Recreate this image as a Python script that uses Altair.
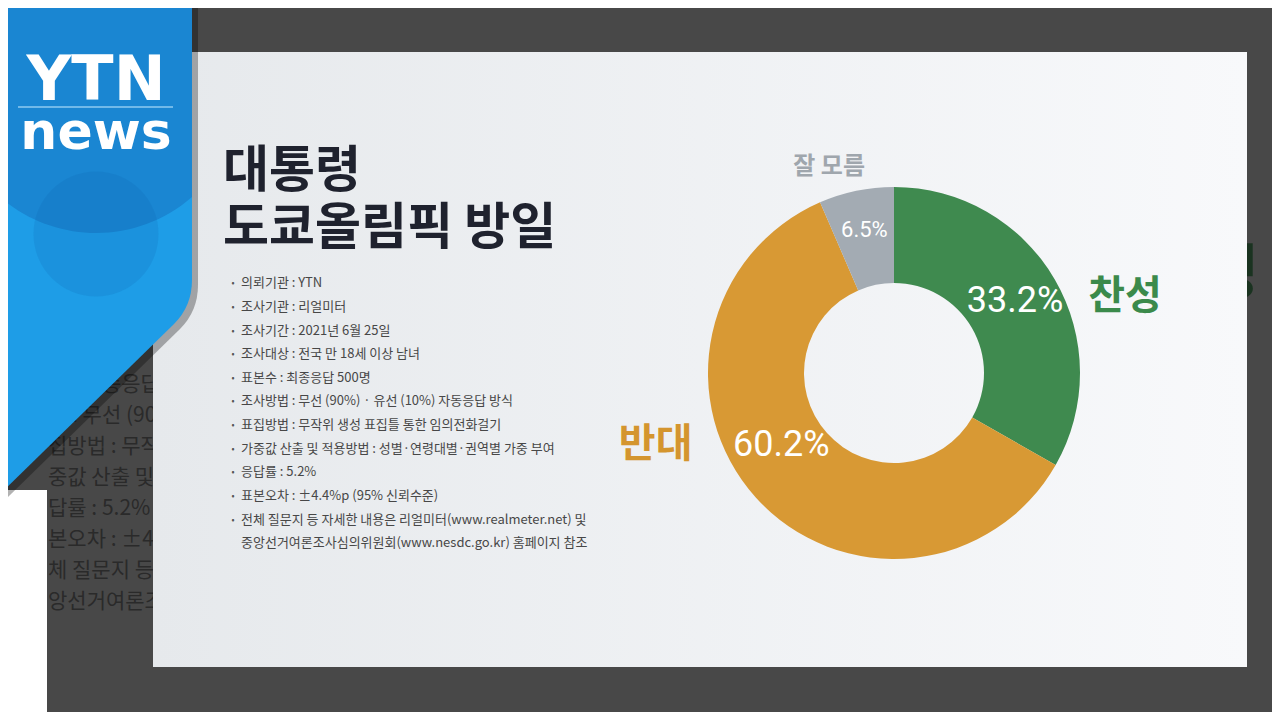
import math
import altair as alt
import pandas as pd

# ---------------- data ----------------
categories = ["찬성", "반대", "잘 모름"]
values = [33.2, 60.2, 6.5]
slice_colors = ["#3f8a4f", "#d89934", "#a3abb3"]
label_colors = ["#3b8a4b", "#d4952e", "#9fa6ad"]

title_lines = ["대통령", "도쿄올림픽 방일"]

info_lines = [
    "의뢰기관 : YTN",
    "조사기관 : 리얼미터",
    "조사기간 : 2021년 6월 25일",
    "조사대상 : 전국 만 18세 이상 남녀",
    "표본수 : 최종응답 500명",
    "조사방법 : 무선 (90%) · 유선 (10%) 자동응답 방식",
    "표집방법 : 무작위 생성 표집틀 통한 임의전화걸기",
    "가중값 산출 및 적용방법 : 성별·연령대별·권역별 가중 부여",
    "응답률 : 5.2%",
    "표본오차 : ±4.4%p (95% 신뢰수준)",
    "전체 질문지 등 자세한 내용은 리얼미터(www.realmeter.net) 및",
    "중앙선거여론조사심의위원회(www.nesdc.go.kr) 홈페이지 참조",
]
info_bullet = [1, 1, 1, 1, 1, 1, 1, 1, 1, 1, 1, 0]

behind_lines = [
    "수 : 최종응답 500명",
    "법 : 무선 (90%)",
    "집방법 : 무작위",
    "중값 산출 및 적용",
    "답률 : 5.2%",
    "본오차 : ±4.4%p",
    "체 질문지 등 자세한",
    "앙선거여론조사",
]

# ---------------- layout constants ----------------
W, H = 1264, 704
CX, CY = 886, 365
KR = "Noto Sans CJK KR"
total = sum(values)

one = pd.DataFrame({"k": [0]})

# text of the slide behind (on the dark strip)
behind_df = pd.DataFrame({"t": behind_lines, "i": list(range(len(behind_lines)))})
behind = alt.Chart(behind_df).mark_text(
    align="left", baseline="middle", font=KR, fontSize=21, color="#2a2a2a"
).encode(
    x=alt.value(40),
    y=alt.Y("i:Q", scale=alt.Scale(domain=[0, 7], range=[377, 594]), axis=None),
    text="t:N",
)
behind_right = alt.Chart(one).mark_text(
    text="성", align="right", baseline="middle", font=KR, fontWeight="bold",
    fontSize=60, color="#1a3320"
).encode(x=alt.value(1251), y=alt.value(268))

white_corner = alt.Chart(one).mark_rect(color="#ffffff").encode(
    x=alt.value(0), x2=alt.value(39), y=alt.value(482), y2=alt.value(704)
)

panel = alt.Chart(one).mark_rect(
    fill=alt.Gradient(
        gradient="linear",
        stops=[alt.GradientStop(color="#e6e9ec", offset=0),
               alt.GradientStop(color="#f8f9fb", offset=1)],
        x1=0, x2=1, y1=0, y2=0,
    )
).encode(x=alt.value(145), x2=alt.value(1239), y=alt.value(44), y2=alt.value(659))

# YTN logo
logo_path = "M-8,-8 L184,-8 L184,272 Q184,298 166,316 L-8,486 Z"
top_path = "M-8,-8 L184,-8 L184,189 A146,146 0 0 1 -8,189 Z"

logo_shadow = alt.Chart(one).mark_point(
    shape=logo_path, size=4, filled=True, color="#000000", opacity=0.3, strokeWidth=0
).encode(x=alt.value(6), y=alt.value(5))
logo = alt.Chart(one).mark_point(
    shape=logo_path, size=4, filled=True, color="#1e9de7", opacity=1, strokeWidth=0
).encode(x=alt.value(0), y=alt.value(0))
logo_top = alt.Chart(one).mark_point(
    shape=top_path, size=4, filled=True, color="#1a86d2", opacity=1, strokeWidth=0
).encode(x=alt.value(0), y=alt.value(0))
logo_circle = alt.Chart(one).mark_point(
    shape="circle", size=15625, filled=True, color="#0a5ea6", opacity=0.16, strokeWidth=0
).encode(x=alt.value(88), y=alt.value(226))
ytn_text = alt.Chart(one).mark_text(
    text="YTN", align="center", baseline="alphabetic", font="DejaVu Sans",
    fontWeight="bold", fontSize=62, color="#ffffff"
).encode(x=alt.value(88), y=alt.value(92))
logo_rule = alt.Chart(one).mark_rule(color="#8fcaf0", strokeWidth=1.5).encode(
    x=alt.value(10), x2=alt.value(165), y=alt.value(99)
)
news_text = alt.Chart(one).mark_text(
    text="news", align="center", baseline="alphabetic", font="DejaVu Sans",
    fontWeight="bold", fontSize=52, color="#ffffff"
).encode(x=alt.value(88), y=alt.value(141))

# title (one two-line text)
title = alt.Chart(one).mark_text(
    text=title_lines, lineHeight=57, align="left", baseline="middle", font=KR,
    fontWeight="bold", fontSize=50, color="#1f222e"
).encode(x=alt.value(215), y=alt.value(164))

# survey info
info_df = pd.DataFrame({"t": info_lines, "i": list(range(len(info_lines))), "b": info_bullet})
info_y = alt.Y("i:Q", scale=alt.Scale(domain=[0, 11], range=[275.3, 535.3]), axis=None)
info = alt.Chart(info_df).mark_text(
    align="left", baseline="middle", font=KR, fontSize=13, color="#474747"
).encode(x=alt.value(233), y=info_y, text="t:N")
bullets = alt.Chart(info_df).transform_filter("datum.b == 1").mark_text(
    text="•", align="center", baseline="middle", font=KR, fontSize=9, color="#555555"
).encode(x=alt.value(225), y=info_y)

# donut
pie_df = pd.DataFrame({"category": categories, "value": values, "order": [0, 1, 2]})
theta_scale = alt.Scale(domain=[0, total], range=[0, 2 * math.pi])
arc = alt.Chart(pie_df).mark_arc(innerRadius=90, outerRadius=186).encode(
    theta=alt.Theta("value:Q", stack=True, scale=theta_scale),
    color=alt.Color("category:N", scale=alt.Scale(domain=categories, range=slice_colors), legend=None),
    order=alt.Order("order:Q"),
    x=alt.value(CX), y=alt.value(CY),
)

base = alt.Chart(pie_df).transform_window(
    cum="sum(value)", sort=[alt.SortField("order")], frame=[None, 0]
).transform_calculate(
    mid="datum.cum - datum.value / 2",
    label="format(datum.value, '.1f') + '%'",
)

inner_style = {  # radius, dx, dy, fontSize
    "찬성": (140, 0, -2, 36),
    "반대": (138, -10, -20, 36),
    "잘 모름": (146, 0, 0, 22),
}
outer_style = {  # radius, dx, dy, fontSize
    "찬성": (243, 21, 46, 40),
    "반대": (249, -53, -94, 40),
    "잘 모름": (216, -21, 6, 24),
}

label_layers = []
for cat, lc in zip(categories, label_colors):
    r, dx, dy, fs = inner_style[cat]
    label_layers.append(
        base.transform_filter(alt.datum.category == cat).mark_text(
            radius=r, dx=dx, dy=dy, align="center", baseline="middle",
            font="Roboto", fontSize=fs, color="#ffffff"
        ).encode(
            theta=alt.Theta("mid:Q", scale=theta_scale),
            text="label:N", x=alt.value(CX), y=alt.value(CY),
        )
    )
    r, dx, dy, fs = outer_style[cat]
    label_layers.append(
        base.transform_filter(alt.datum.category == cat).mark_text(
            radius=r, dx=dx, dy=dy, align="center", baseline="middle",
            font=KR, fontWeight="bold", fontSize=fs, color=lc
        ).encode(
            theta=alt.Theta("mid:Q", scale=theta_scale),
            text="category:N", x=alt.value(CX), y=alt.value(CY),
        )
    )

chart = alt.layer(
    behind, behind_right, white_corner, panel,
    logo_shadow, logo, logo_top, logo_circle, ytn_text, logo_rule, news_text,
    title, bullets, info, arc, *label_layers,
).resolve_scale(y="independent").properties(
    width=W, height=H, padding=0,
    autosize=alt.AutoSizeParams(type="none"),
).configure(background="#484848").configure_view(stroke=None)

chart.save("out.html", embed_options={"renderer": "svg", "actions": False})
